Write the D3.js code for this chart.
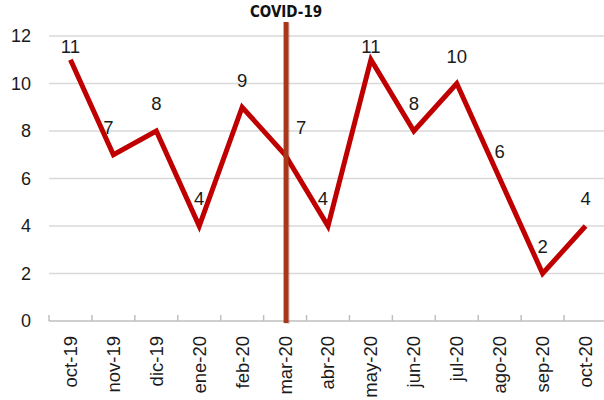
<!DOCTYPE html>
<html>
<head>
<meta charset="utf-8">
<script src="https://cdn.jsdelivr.net/npm/d3@7"></script>
<style>
  body { margin: 0; background: #fff; }
  text { font-family: "Liberation Sans", Arial, sans-serif; }
</style>
</head>
<body>
<div id="chart"></div>
<script>
// months on the x axis and the monthly count
let months = ["oct-19", "nov-19", "dic-19", "ene-20", "feb-20", "mar-20", "abr-20",
              "may-20", "jun-20", "jul-20", "ago-20", "sep-20", "oct-20"];
let counts = [11, 7, 8, 4, 9, 7, 4, 11, 8, 10, 6, 2, 4];
let yTicks = [0, 2, 4, 6, 8, 10, 12];
let markerMonth = "mar-20";
let markerLabel = "COVID-19";

let width = 604;
let height = 400;
let plotLeft = 49, plotRight = 607, plotTop = 36, plotBottom = 321;

let svg = d3.select("#chart")
  .append("svg")
  .attr("width", width).attr("height", height);

let xScale = d3.scaleBand()
  .domain(months)
  .range([plotLeft, plotRight]);

let yScale = d3.scaleLinear()
  .domain([0, 12])
  .range([plotBottom, plotTop]);

let data = months.map(function(m, i) { return { month: m, value: counts[i] }; });

function cx(m) { return xScale(m) + xScale.bandwidth() / 2; }

// gridlines
svg.append("g")
  .selectAll("line")
  .data(yTicks.filter(function(t) { return t > 0; }))
  .enter()
  .append("line")
  .attr("x1", plotLeft).attr("x2", width)
  .attr("y1", function(d) { return yScale(d); })
  .attr("y2", function(d) { return yScale(d); })
  .style("stroke", "#d9d9d9")
  .style("stroke-width", 1.5);

// y tick labels
svg.append("g")
  .selectAll("text")
  .data(yTicks)
  .enter()
  .append("text")
  .attr("x", 31)
  .attr("y", function(d) { return yScale(d); })
  .attr("dy", "0.35em")
  .style("text-anchor", "end")
  .style("font-size", "18px")
  .style("fill", "#1a1a1a")
  .text(function(d) { return d; });

// x axis with ticks pointing up at band edges
let xAxis = svg.append("g");
xAxis.append("line")
  .attr("x1", plotLeft).attr("x2", width)
  .attr("y1", plotBottom).attr("y2", plotBottom)
  .style("stroke", "#bfbfbf")
  .style("stroke-width", 1.5);
xAxis.selectAll(".tick")
  .data(months)
  .enter()
  .append("line")
  .attr("class", "tick")
  .attr("x1", function(d) { return xScale(d); })
  .attr("x2", function(d) { return xScale(d); })
  .attr("y1", plotBottom).attr("y2", plotBottom - 6)
  .style("stroke", "#bfbfbf")
  .style("stroke-width", 1.5);
xAxis.selectAll(".xlabel")
  .data(months)
  .enter()
  .append("text")
  .attr("class", "xlabel")
  .attr("transform", function(d) { return "translate(" + cx(d) + "," + 336 + ") rotate(-90)"; })
  .attr("dy", "0.35em")
  .style("text-anchor", "end")
  .style("font-size", "18.5px")
  .style("fill", "#1a1a1a")
  .text(function(d) { return d; });

// data labels (placed like the original, a few nudged sideways)
let nudge = { "nov-19": -5, "mar-20": 16, "abr-20": -5 };
svg.append("g")
  .selectAll("text")
  .data(data)
  .enter()
  .append("text")
  .attr("x", function(d) { return cx(d.month) + (nudge[d.month] || 0); })
  .attr("y", function(d) { return Math.max(yScale(d.value) - 27, 46.5); })
  .attr("dy", "0.35em")
  .style("text-anchor", "middle")
  .style("font-size", "18.5px")
  .style("fill", "#1a1a1a")
  .text(function(d) { return d.value; });

// the series line
let line = d3.line()
  .x(function(d) { return cx(d.month); })
  .y(function(d) { return yScale(d.value); });

svg.append("path")
  .datum(data)
  .attr("d", line)
  .style("fill", "none")
  .style("stroke", "#c00000")
  .style("stroke-width", 5)
  .style("stroke-linejoin", "miter");

// COVID-19 marker
let mx = cx(markerMonth) + 1;
svg.append("line")
  .attr("x1", mx + 1.5).attr("x2", mx + 1.5)
  .attr("y1", 23).attr("y2", 324)
  .style("stroke", "#000")
  .style("stroke-opacity", 0.12)
  .style("stroke-width", 5);
svg.append("line")
  .attr("x1", mx).attr("x2", mx)
  .attr("y1", 22).attr("y2", 323)
  .style("stroke", "#a9381b")
  .style("stroke-width", 5);
svg.append("text")
  .attr("x", mx)
  .attr("y", 17)
  .style("text-anchor", "middle")
  .style("font-family", "'DejaVu Sans Condensed', 'DejaVu Sans', sans-serif")
  .style("font-stretch", "condensed")
  .style("font-weight", "bold")
  .style("font-size", "15px")
  .style("fill", "#111")
  .text(markerLabel);
</script>
</body>
</html>
